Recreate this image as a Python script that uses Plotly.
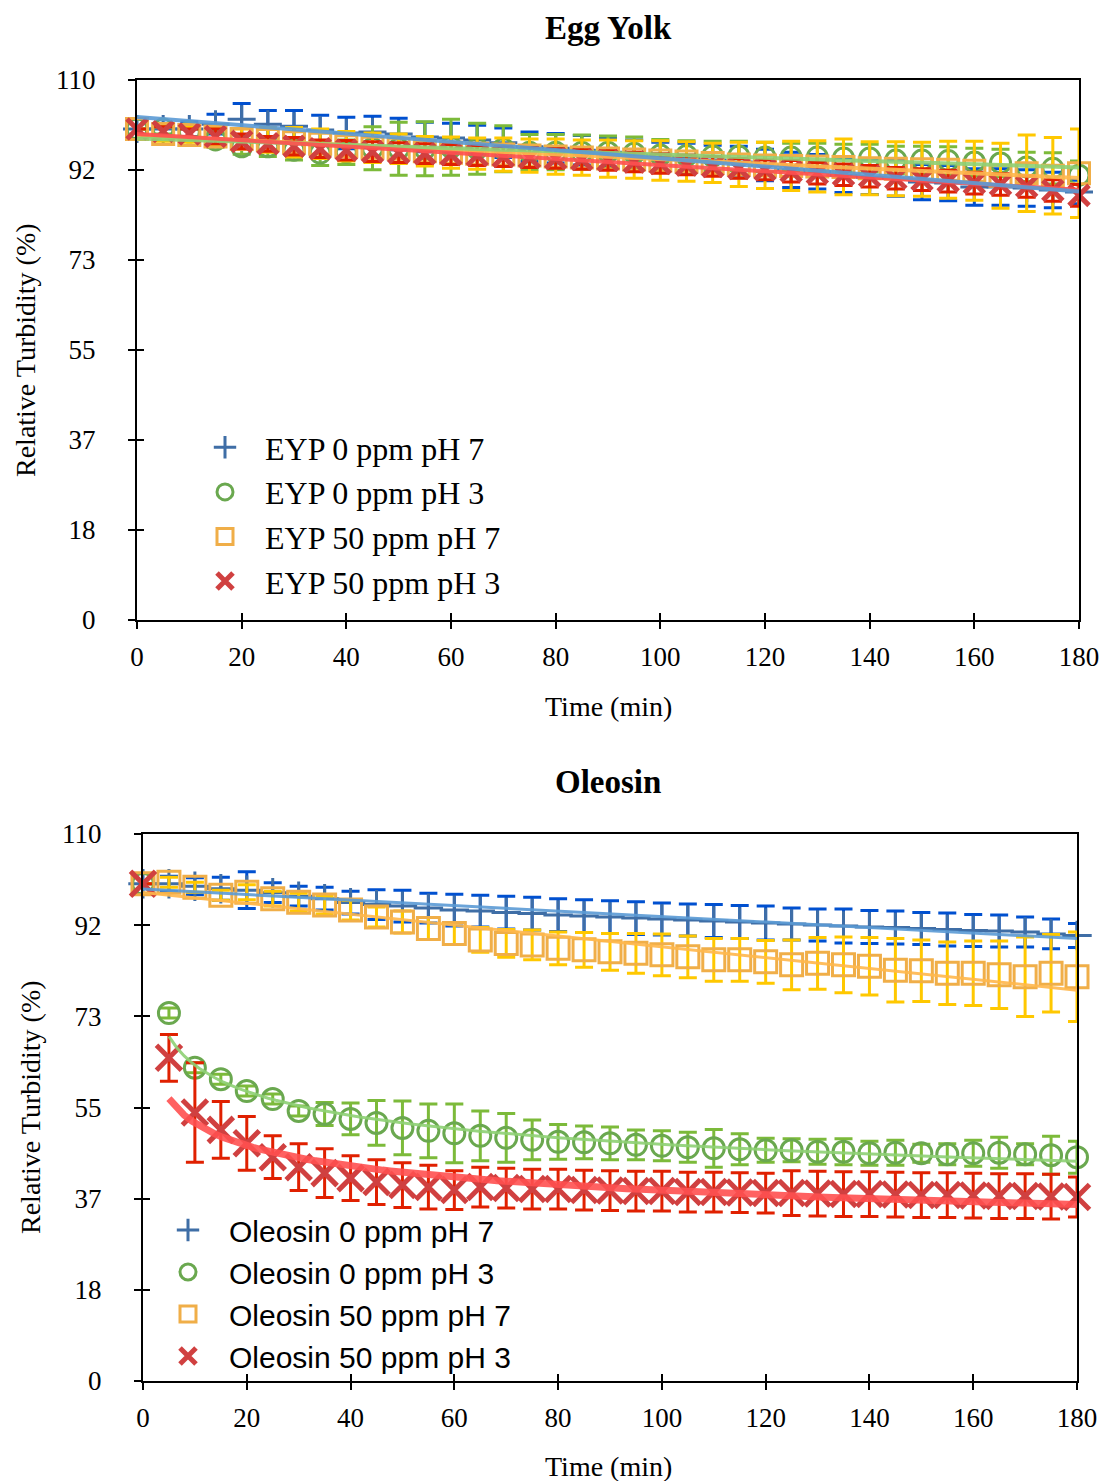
import numpy as np
import plotly.graph_objects as go

# ---------------- data ----------------
time_min = [0, 5, 10, 15, 20, 25, 30, 35, 40, 45, 50, 55, 60, 65, 70, 75, 80, 85, 90,
            95, 100, 105, 110, 115, 120, 125, 130, 135, 140, 145, 150, 155, 160, 165,
            170, 175, 180]

# Egg yolk panel
eyp_0_ph7 = [100, 100, 100, 101, 102, 101, 100.6, 99.8, 99.2, 99.4, 99, 98.4, 98.2,
             97.8, 97.2, 96.4, 96.1, 95.7, 95.3, 94.7, 94.3, 94.1, 93.7, 93.3, 92.7,
             91.7, 91.3, 90.6, 90.2, 90, 89.2, 89, 88.2, 88.2, 88, 87.6, 87.2]
eyp_0_ph7_err = [0, 1.2, 1.5, 2, 3.2, 2.8, 3.2, 3, 3.2, 3.2, 3.2, 3, 3,
                 3, 3, 3, 3, 3, 3, 3.1, 3, 3, 3, 3.2, 3.2,
                 3.6, 3.5, 3.5, 3.5, 3.7, 3.6, 3.6, 3.7, 3.7, 3.7, 3.6, 2.4]
eyp_0_ph3 = [100, 100, 99.4, 97.8, 96.4, 96.4, 95.7, 95.1, 95.3, 96.1, 96, 96, 96.3,
             96, 96, 95.3, 95.3, 95.3, 95.3, 95.1, 94.7, 94.6, 94.5, 94.5, 94.3,
             94.3, 94.3, 94.1, 94.1, 93.7, 93.7, 93.6, 93.3, 93.1, 92.3, 92, 90.6]
eyp_0_ph3_err = [0, 1, 1, 1.5, 1.5, 2, 2, 2.5, 2.5, 4.4, 5.4, 5.5, 5.7,
                 5.2, 4.7, 3.6, 3.6, 3.5, 3.3, 3.3, 3.2, 3, 3, 3, 3,
                 2.8, 2.8, 2.8, 2.8, 2.8, 2.8, 2.8, 2.8, 2.8, 3, 3.2, 2.9]
eyp_50_ph7 = [100, 99, 98.8, 98.5, 98, 97.8, 97.3, 97, 96.5, 96.2, 96, 95.5, 95.2,
              95, 94.8, 94.6, 94.4, 94.2, 94, 93.8, 93.6, 93.4, 93.1, 92.8, 92.6,
              92.5, 92.4, 92.3, 92, 91.9, 91.8, 91.7, 91.5, 90.5, 91, 90.5, 91]
eyp_50_ph7_err = [0, 1.5, 1.5, 2, 2, 2.5, 3, 3, 3, 3, 3, 3, 3.2,
                  3.2, 3.4, 3.4, 3.6, 3.6, 3.8, 3.8, 4, 4, 4, 4.5, 4.7,
                  5, 5.2, 5.7, 5.4, 5.5, 5.5, 5.8, 6, 6.6, 7.8, 7.8, 9]
eyp_50_ph3 = [100, 99.5, 99, 98.5, 97.5, 97, 96.5, 96, 95.7, 95.4, 95.2, 95, 94.8,
              94.6, 94.4, 94.2, 94, 93.8, 93.6, 93.3, 93, 92.7, 92.4, 92, 91.7,
              91.4, 91, 90.7, 90.4, 90, 89.7, 89.4, 89, 88.7, 88.3, 87.5, 86.5]
eyp_50_ph3_err = [0, 1, 1, 1.5, 1.5, 1.5, 1.8, 1.8, 2, 2, 2, 2, 2,
                  2, 2, 2, 2, 2, 2, 2, 2, 2, 2, 2, 2,
                  2.2, 2.2, 2.2, 2.2, 2.2, 2.2, 2.2, 2.2, 2.2, 2.2, 2.2, 2.2]

# Oleosin panel
ole_0_ph7 = [100, 100, 99.5, 99, 98.7, 98.2, 97.5, 97, 96.2, 95.8, 95.5, 95.1, 94.7,
             94.5, 94.2, 94, 93.7, 93.5, 93.3, 93.1, 92.9, 92.7, 92.5, 92.3, 92.1,
             91.9, 91.7, 91.5, 91.3, 91.2, 91, 90.8, 90.6, 90.5, 90.3, 89.9, 89.6]
ole_0_ph7_err = [0, 1.5, 1.7, 2.3, 3.7, 2, 2, 2.3, 2.3, 3, 3.2, 3, 3.2,
                 3.2, 3.3, 3.3, 3.3, 3.3, 3.3, 3.3, 3.2, 3.2, 3.3, 3.3, 3.4,
                 3.2, 3.2, 3.4, 3.3, 3.3, 3.2, 3.3, 3.2, 3.2, 3.0, 3.0, 2.4]
ole_0_ph3 = [100, 74, 63, 60.7, 58.3, 56.7, 54.3, 53.7, 52.7, 51.9, 50.9, 50.3, 49.8,
             49.3, 48.9, 48.5, 48.1, 48, 47.8, 47.5, 47.3, 47, 46.8, 46.6, 46.4,
             46.4, 46.1, 46.1, 45.8, 45.9, 45.8, 45.6, 45.8, 45.9, 45.6, 45.4, 45]
ole_0_ph3_err = [0, 1, 1, 1, 1, 1, 1, 2.3, 3.2, 4.5, 5.4, 5.4, 5.9,
                 5, 4.9, 4, 3.5, 3.3, 3.3, 3, 3, 3, 3.8, 3.1, 2.4,
                 2.3, 2.5, 2.6, 2.4, 2.5, 1.8, 2.1, 2.6, 3.1, 2.1, 3.8, 3.2]
ole_50_ph7 = [100, 100.3, 99.3, 97.7, 98.3, 97, 96.3, 95.7, 94.7, 93.3, 92.3, 91, 90,
              88.7, 88, 87.7, 87, 86.7, 86.3, 86, 85.7, 85.3, 84.7, 84.7, 84.3,
              83.7, 84, 83.7, 83.4, 82.6, 82.5, 82, 82, 81.7, 81.3, 82, 81.3]
ole_50_ph7_err = [0, 1, 1, 1, 1.5, 1.5, 1.8, 1.8, 2, 2, 2.2, 2.2, 2.2,
                  2.5, 2.8, 3, 3.3, 3.5, 3.7, 4, 4.2, 4.2, 4.3, 4.3, 4.3,
                  5, 5.2, 5.6, 5.8, 6.4, 6.2, 6.3, 6.5, 6.8, 8, 7.8, 9]
ole_50_ph3 = [100, 65, 54, 50.5, 47.8, 45, 43, 41.8, 40.8, 40, 39.4, 39, 38.4,
              39, 38.8, 38.6, 38.6, 38.4, 38.3, 38.2, 38.2, 38, 38, 37.9, 37.8,
              37.8, 37.7, 37.6, 37.6, 37.5, 37.4, 37.4, 37.3, 37.2, 37.2, 37.1, 37]
ole_50_ph3_err = [0, 4.7, 10, 5.7, 5.4, 4.3, 4.7, 4.9, 4.5, 4.5, 4.5, 4.4, 3.9,
                  4, 4, 4, 4, 4, 4, 4, 4, 4, 4, 4, 4,
                  4.5, 4.5, 4.5, 4.5, 4.5, 4.5, 4.5, 4.5, 4.5, 4.5, 4.5, 4]

y_tickvals = [0, 110 / 6, 220 / 6, 55, 440 / 6, 550 / 6, 110]
y_ticktext = ["0", "18", "37", "55", "73", "92", "110"]
x_tickvals = [0, 20, 40, 60, 80, 100, 120, 140, 160, 180]

# ---------------- helpers ----------------
SERIF = "Liberation Serif, Times New Roman, serif"
SANS = "Liberation Sans, Arial, sans-serif"

t = np.array(time_min, dtype=float)


def linear_trend(y):
    c = np.polyfit(t, np.array(y, dtype=float), 1)
    xs = np.linspace(0, 180, 50)
    return xs, np.polyval(c, xs)


def power_trend(y):
    yy = np.array(y, dtype=float)
    m = t > 0
    c = np.polyfit(np.log(t[m]), np.log(yy[m]), 1)
    xs = np.linspace(5, 180, 120)
    return xs, np.exp(c[1]) * xs ** c[0]


STYLES = {
    "blue": dict(symbol="cross-thin", mcol="#3F6EA6", ecol="#0050D0", lcol="#5B9BD5", lw=3),
    "green": dict(symbol="circle-open", mcol="#6AA84F", ecol="#7CBA3A", lcol="#8FD175", lw=3),
    "orange": dict(symbol="square-open", mcol="#F0AE48", ecol="#FFC800", lcol="#FFB84D", lw=3),
    "red": dict(symbol="x-thin", mcol="#D04040", ecol="#E02000", lcol="#FF5050", lw=5),
}

fig = go.Figure()


def add_series(name, y, err, style, size, xa, ya, legend):
    s = STYLES[style]
    fig.add_trace(go.Scatter(
        x=time_min, y=y, name=name, mode="markers", legendgroup=name,
        marker=dict(symbol=s["symbol"], size=size, color=s["mcol"],
                    line=dict(color=s["mcol"], width=s["lw"])),
        error_y=dict(type="data", array=err, color=s["ecol"], thickness=3, width=9),
        xaxis=xa, yaxis=ya, legend=legend, cliponaxis=False,
    ))


def add_trend(xs, ys, style, width, xa, ya):
    s = STYLES[style]
    fig.add_trace(go.Scatter(
        x=xs, y=ys, mode="lines", showlegend=False, hoverinfo="skip",
        line=dict(color=s["lcol"], width=width), opacity=0.9,
        xaxis=xa, yaxis=ya, cliponaxis=False,
    ))


# Egg yolk panel
add_series("EYP 0 ppm pH 7", eyp_0_ph7, eyp_0_ph7_err, "blue", 20, "x", "y", "legend")
add_series("EYP 0 ppm pH 3", eyp_0_ph3, eyp_0_ph3_err, "green", 20, "x", "y", "legend")
add_series("EYP 50 ppm pH 7", eyp_50_ph7, eyp_50_ph7_err, "orange", 21, "x", "y", "legend")
add_series("EYP 50 ppm pH 3", eyp_50_ph3, eyp_50_ph3_err, "red", 20, "x", "y", "legend")
for y, st in [(eyp_50_ph7, "orange"), (eyp_0_ph3, "green"), (eyp_50_ph3, "red"), (eyp_0_ph7, "blue")]:
    xs, ys = linear_trend(y)
    add_trend(xs, ys, st, 4, "x", "y")

# Oleosin panel
add_series("Oleosin 0 ppm pH 7", ole_0_ph7, ole_0_ph7_err, "blue", 21, "x2", "y2", "legend2")
add_series("Oleosin 0 ppm pH 3", ole_0_ph3, ole_0_ph3_err, "green", 21, "x2", "y2", "legend2")
add_series("Oleosin 50 ppm pH 7", ole_50_ph7, ole_50_ph7_err, "orange", 22, "x2", "y2", "legend2")
add_series("Oleosin 50 ppm pH 3", ole_50_ph3, ole_50_ph3_err, "red", 25, "x2", "y2", "legend2")
xs, ys = linear_trend(ole_0_ph7)
add_trend(xs, ys, "blue", 3, "x2", "y2")
xs, ys = linear_trend(ole_50_ph7)
add_trend(xs, ys, "orange", 3, "x2", "y2")
xs, ys = power_trend(ole_0_ph3)
add_trend(xs, ys, "green", 3, "x2", "y2")
xs, ys = power_trend(ole_50_ph3)
add_trend(xs, ys, "red", 7, "x2", "y2")

# empty traces so the inner-tick overlay axes exist
fig.add_trace(go.Scatter(x=[], y=[], xaxis="x3", yaxis="y3", showlegend=False, hoverinfo="skip"))
fig.add_trace(go.Scatter(x=[], y=[], xaxis="x4", yaxis="y4", showlegend=False, hoverinfo="skip"))

W, H = 1104, 1481


def px_x(p):
    return p / W


def px_y(p):
    return 1 - p / H


axis_common = dict(showline=True, linecolor="black", linewidth=2, mirror=True,
                   ticks="outside", ticklen=7, tickwidth=2, tickcolor="black",
                   showgrid=False, zeroline=False, automargin=False,
                   tickfont=dict(family=SERIF, size=27, color="black"))
inner_common = dict(showline=False, ticks="inside", ticklen=7, tickwidth=2, tickcolor="black",
                    showgrid=False, zeroline=False, automargin=False, showticklabels=False)

top_x = [px_x(137), px_x(1079)]
top_y = [px_y(620), px_y(80)]
bot_x = [px_x(143), px_x(1077)]
bot_y = [px_y(1381), px_y(834)]

fig.update_layout(
    width=W, height=H, margin=dict(l=0, r=0, t=0, b=0, autoexpand=False),
    paper_bgcolor="white", plot_bgcolor="white",
    xaxis=dict(domain=top_x, range=[0, 180], anchor="y",
               tickvals=x_tickvals, ticklabelstandoff=5, **axis_common),
    yaxis=dict(domain=top_y, range=[0, 110], anchor="x",
               tickvals=y_tickvals, ticktext=y_ticktext, ticklabelstandoff=27, **axis_common),
    xaxis2=dict(domain=bot_x, range=[0, 180], anchor="y2",
                tickvals=x_tickvals, ticklabelstandoff=5, **axis_common),
    yaxis2=dict(domain=bot_y, range=[0, 110], anchor="x2",
                tickvals=y_tickvals, ticktext=y_ticktext, ticklabelstandoff=27, **axis_common),
    xaxis3=dict(domain=top_x, range=[0, 180], anchor="y", overlaying="x",
                tickvals=x_tickvals, **inner_common),
    yaxis3=dict(domain=top_y, range=[0, 110], anchor="x", overlaying="y",
                tickvals=y_tickvals, **inner_common),
    xaxis4=dict(domain=bot_x, range=[0, 180], anchor="y2", overlaying="x2",
                tickvals=x_tickvals, **inner_common),
    yaxis4=dict(domain=bot_y, range=[0, 110], anchor="x2", overlaying="y2",
                tickvals=y_tickvals, **inner_common),
    legend=dict(x=px_x(185), y=px_y(420), xanchor="left", yanchor="top",
                bgcolor="rgba(0,0,0,0)", font=dict(family=SERIF, size=32, color="black"),
                itemwidth=70, tracegroupgap=0),
    legend2=dict(x=px_x(147), y=px_y(1204), xanchor="left", yanchor="top",
                 bgcolor="rgba(0,0,0,0)", font=dict(family=SANS, size=30, color="black"),
                 itemwidth=72, tracegroupgap=0),
    showlegend=True,
)

annotations = [
    dict(text="<b>Egg Yolk</b>", x=px_x(608), y=px_y(28), font=dict(family=SERIF, size=33)),
    dict(text="<b>Oleosin</b>", x=px_x(608), y=px_y(782), font=dict(family=SERIF, size=33)),
    dict(text="Time (min)", x=px_x(608), y=px_y(706), font=dict(family=SERIF, size=28)),
    dict(text="Time (min)", x=px_x(608), y=px_y(1466), font=dict(family=SERIF, size=28)),
    dict(text="Relative Turbidity (%)", x=px_x(25), y=px_y(350), textangle=-90,
         font=dict(family=SERIF, size=28)),
    dict(text="Relative Turbidity (%)", x=px_x(30), y=px_y(1107), textangle=-90,
         font=dict(family=SERIF, size=28)),
]
for a in annotations:
    a.update(xref="paper", yref="paper", showarrow=False, xanchor="center", yanchor="middle")
    a["font"]["color"] = "black"
fig.update_layout(annotations=annotations)

fig.write_html("out.html")
